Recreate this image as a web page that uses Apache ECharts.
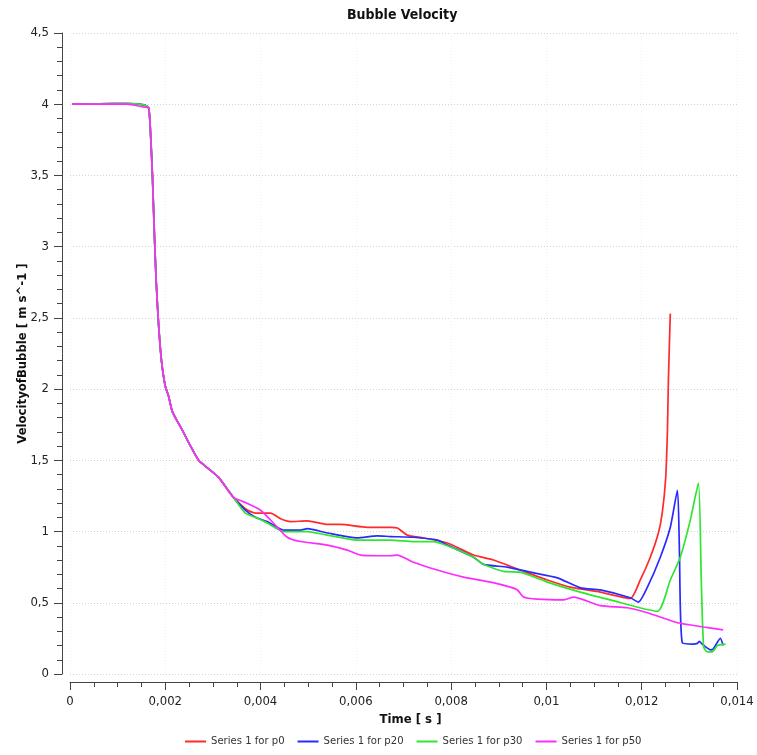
<!DOCTYPE html>
<html>
<head>
<meta charset="utf-8">
<title>Bubble Velocity</title>
<script src="https://cdn.jsdelivr.net/npm/echarts@6/dist/echarts.min.js"></script>
<style>
  html, body { margin: 0; padding: 0; background: #fff; }
  #chart { width: 757px; height: 755px; }
</style>
</head>
<body>
<div id="chart"></div>
<script>
// Bubble velocity over time, four probe series (time in s, velocity in m/s)
const seriesNames = ['Series 1 for p0', 'Series 1 for p20', 'Series 1 for p30', 'Series 1 for p50'];
const seriesColors = ['#ff2a2a', '#2a2aff', '#2ee62e', '#ff2aff'];

// Shared early history: flat start and the sharp deceleration
const commonTime = [0.00005, 0.0006, 0.0012, 0.00155, 0.00165, 0.00169, 0.00173, 0.00177, 0.00181, 0.00186, 0.00192, 0.0020, 0.00207, 0.00215, 0.00236, 0.00253, 0.0027, 0.00291, 0.00312, 0.00343];
const commonVel  = [4.0, 4.003, 4.005, 3.995, 3.975, 3.8, 3.5, 3.1, 2.75, 2.45, 2.2, 2.02, 1.95, 1.84, 1.71, 1.6, 1.5, 1.44, 1.38, 1.24];
const p50EarlyVel = [4.0, 4.0, 4.0, 3.98, 3.975, 3.8, 3.5, 3.1, 2.75, 2.45, 2.2, 2.02, 1.95, 1.84, 1.71, 1.6, 1.5, 1.44, 1.38, 1.24];

// p0
const p0Time = [0.00368, 0.00379, 0.00389, 0.00421, 0.00442, 0.00463, 0.00498, 0.0054, 0.00568, 0.00624, 0.00673, 0.00687, 0.00708, 0.00742, 0.00792, 0.00847, 0.00889, 0.00945, 0.01002, 0.0105, 0.01113, 0.01176, 0.01197, 0.01218, 0.01235, 0.01243, 0.0125, 0.01254, 0.01256, 0.0126];
const p0Vel  = [1.16, 1.14, 1.13, 1.13, 1.09, 1.07, 1.075, 1.05, 1.05, 1.03, 1.03, 1.025, 0.975, 0.955, 0.92, 0.835, 0.8, 0.73, 0.66, 0.61, 0.575, 0.53, 0.66, 0.82, 0.99, 1.13, 1.36, 1.71, 2.06, 2.53];

// p20
const p20Time = [0.00368, 0.00389, 0.00414, 0.00448, 0.00484, 0.00498, 0.0054, 0.00603, 0.00645, 0.00673, 0.00721, 0.00771, 0.00792, 0.00847, 0.00868, 0.00918, 0.00966, 0.01023, 0.01071, 0.01113, 0.01176, 0.01193, 0.01212, 0.01239, 0.0126, 0.01275, 0.01279, 0.01285, 0.01308, 0.01317, 0.01321, 0.01327, 0.01344, 0.0135, 0.01365, 0.01371];
const p20Vel  = [1.15, 1.1, 1.07, 1.01, 1.01, 1.02, 0.99, 0.955, 0.97, 0.965, 0.96, 0.94, 0.905, 0.82, 0.77, 0.75, 0.715, 0.675, 0.605, 0.59, 0.535, 0.505, 0.61, 0.82, 1.03, 1.29, 0.89, 0.22, 0.21, 0.215, 0.23, 0.21, 0.17, 0.175, 0.25, 0.2];

// p30
const p30Time = [0.00368, 0.00389, 0.00414, 0.00448, 0.00498, 0.0054, 0.00603, 0.00673, 0.00721, 0.00763, 0.00792, 0.00847, 0.00868, 0.0091, 0.00945, 0.01002, 0.01071, 0.01134, 0.01233, 0.0126, 0.01281, 0.01302, 0.01319, 0.01325, 0.0133, 0.01338, 0.01348, 0.01359, 0.01376];
const p30Vel  = [1.13, 1.1, 1.06, 1.0, 1.0, 0.975, 0.94, 0.94, 0.93, 0.93, 0.9, 0.82, 0.77, 0.72, 0.715, 0.645, 0.575, 0.52, 0.44, 0.66, 0.82, 1.08, 1.34, 0.66, 0.19, 0.155, 0.155, 0.2, 0.21];

// p50
const p50Time = [0.00364, 0.004, 0.00427, 0.00456, 0.00484, 0.0054, 0.00582, 0.0061, 0.00673, 0.00687, 0.00721, 0.00771, 0.00826, 0.00883, 0.00924, 0.00939, 0.00952, 0.00981, 0.01036, 0.01057, 0.01113, 0.0117, 0.01212, 0.01275, 0.0133, 0.01371];
const p50Vel  = [1.21, 1.15, 1.06, 0.96, 0.93, 0.905, 0.87, 0.835, 0.83, 0.835, 0.785, 0.73, 0.68, 0.645, 0.61, 0.59, 0.54, 0.525, 0.52, 0.54, 0.48, 0.465, 0.43, 0.36, 0.33, 0.31];

// Axis ticks
const xTicks = { min: 0, max: 0.014, step: 0.002 };
const yTicks = { min: 0, max: 4.5, step: 0.5 };

function pairs(ts, vs) { return ts.map((t, i) => [t, vs[i]]); }
const seriesData = [
  pairs(commonTime.concat(p0Time), commonVel.concat(p0Vel)),
  pairs(commonTime.concat(p20Time), commonVel.concat(p20Vel)),
  pairs(commonTime.concat(p30Time), commonVel.concat(p30Vel)),
  pairs(commonTime.concat(p50Time), p50EarlyVel.concat(p50Vel))
];

const FONT = '"DejaVu Sans Condensed", "DejaVu Sans", sans-serif';
const comma = v => String(+(+v).toFixed(4)).replace('.', ',');

const chart = echarts.init(document.getElementById('chart'), null, { renderer: 'canvas' });
chart.setOption({
  animation: false,
  backgroundColor: '#ffffff',
  title: {
    text: 'Bubble Velocity',
    left: 342, top: 3,
    textStyle: { fontFamily: FONT, fontWeight: 'bold', fontSize: 14, color: '#111' }
  },
  legend: {
    bottom: 3, left: 180,
    icon: 'rect',
    itemWidth: 21, itemHeight: 2, itemGap: 13,
    textStyle: { fontFamily: FONT, fontSize: 11.2, color: '#333' },
    data: seriesNames
  },
  grid: { left: 70, right: 20, top: 33, bottom: 81, containLabel: false },
  xAxis: {
    type: 'value',
    min: xTicks.min, max: xTicks.max, interval: xTicks.step,
    offset: 8,
    name: 'Time [ s ]', nameLocation: 'middle', nameGap: 31,
    nameTextStyle: { fontFamily: FONT, fontWeight: 'bold', fontSize: 13, color: '#111', padding: [0, 0, 0, 14] },
    axisLine: { show: true, onZero: false, lineStyle: { color: '#444', width: 1 } },
    axisTick: { show: true, length: 8, lineStyle: { color: '#444' } },
    minorTick: { show: true, splitNumber: 4, length: 5, lineStyle: { color: '#444' } },
    axisLabel: { fontFamily: FONT, fontSize: 13, color: '#222', margin: 13, formatter: comma },
    splitLine: { show: true, lineStyle: { color: '#f0f0f0', type: [1, 2], width: 1 } }
  },
  yAxis: {
    type: 'value',
    min: yTicks.min, max: yTicks.max, interval: yTicks.step,
    offset: 8,
    name: 'VelocityofBubble [ m s^-1 ]', nameLocation: 'middle', nameGap: 33,
    nameMoveOverlap: false,
    nameTextStyle: { fontFamily: FONT, fontWeight: 'bold', fontSize: 13, color: '#111' },
    axisLine: { show: true, onZero: false, lineStyle: { color: '#444', width: 1 } },
    axisTick: { show: true, length: 8, lineStyle: { color: '#444' } },
    minorTick: { show: true, splitNumber: 5, length: 5, lineStyle: { color: '#444' } },
    axisLabel: { fontFamily: FONT, fontSize: 13, color: '#222', margin: 13, formatter: comma },
    splitLine: { show: true, lineStyle: { color: '#d4d4d4', type: [1, 2], width: 1 } }
  },
  series: seriesNames.map((name, i) => ({
    name: name,
    type: 'line',
    data: seriesData[i],
    symbol: 'none',
    smooth: 0.2,
    clip: false,
    lineStyle: { color: seriesColors[i], width: 1.7 },
    itemStyle: { color: seriesColors[i] },
    z: 2 + i
  }))
});
</script>
</body>
</html>
